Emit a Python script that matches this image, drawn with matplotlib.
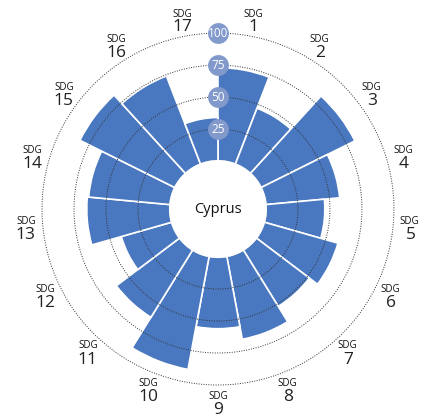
import numpy as np
import matplotlib.pyplot as plt

plt.rcParams['font.family'] = ['Open Sans', 'DejaVu Sans']

# SDG scores for Cyprus
sdgs = [str(i) for i in range(1, 18)]
scores = [73, 47, 82, 58, 46, 60, 52, 66, 56, 90, 62, 41, 65, 64, 83, 74, 34]
ring_values = [25, 50, 75, 100]
country = 'Cyprus'

bar_color = '#4a78c0'
badge_color = '#8299cb'

n = len(sdgs)
width = 2 * np.pi / n
theta = np.arange(n) * width

fig = plt.figure(figsize=(4.22, 4.19), dpi=100)
ax = fig.add_axes([0.0995, 0.0811, 0.834, 0.840], projection='polar')
ax.set_theta_zero_location('N')
ax.set_theta_direction(-1)
ax.set_rorigin(-37.5)
ax.set_ylim(0, 100)

ax.bar(theta, scores, width=width, bottom=0, align='edge',
       color=bar_color, edgecolor='white', linewidth=1.2, zorder=2)

# dotted rings
t = np.linspace(0, 2 * np.pi, 400)
for rv in ring_values:
    ax.plot(t, np.full_like(t, rv), linestyle=(0, (1, 1.5)), color='#333333',
            linewidth=0.7, zorder=3, clip_on=False)

# white centre hole
ax.fill(t, np.zeros_like(t), facecolor='white', edgecolor='white',
        linewidth=1.5, zorder=6, clip_on=False)

# ring value badges on the vertical axis
ax.plot(np.zeros(len(ring_values)), ring_values, 'o', markersize=15,
        color=badge_color, markeredgewidth=0, zorder=4, clip_on=False)
for rv in ring_values:
    ax.text(0, rv, str(rv), ha='center', va='center', color='white', fontsize=8.5,
            zorder=5, clip_on=False)

# SDG labels around the outside
for i, s in enumerate(sdgs):
    ang = theta[i] + width / 2
    ax.text(ang, 113, 'SDG', ha='center', va='bottom', fontsize=7,
            color='#111111', clip_on=False)
    ax.text(ang, 113.5, s, ha='center', va='top', fontsize=12.5,
            color='#222222', clip_on=False)

ax.text(0, -37.5, country, ha='center', va='center', fontsize=10.5,
        color='#111111', zorder=7)

ax.grid(False)
ax.set_xticks([])
ax.set_yticks([])
for sp in ax.spines.values():
    sp.set_visible(False)
ax.patch.set_visible(False)

fig.savefig('out.png', dpi=100)
